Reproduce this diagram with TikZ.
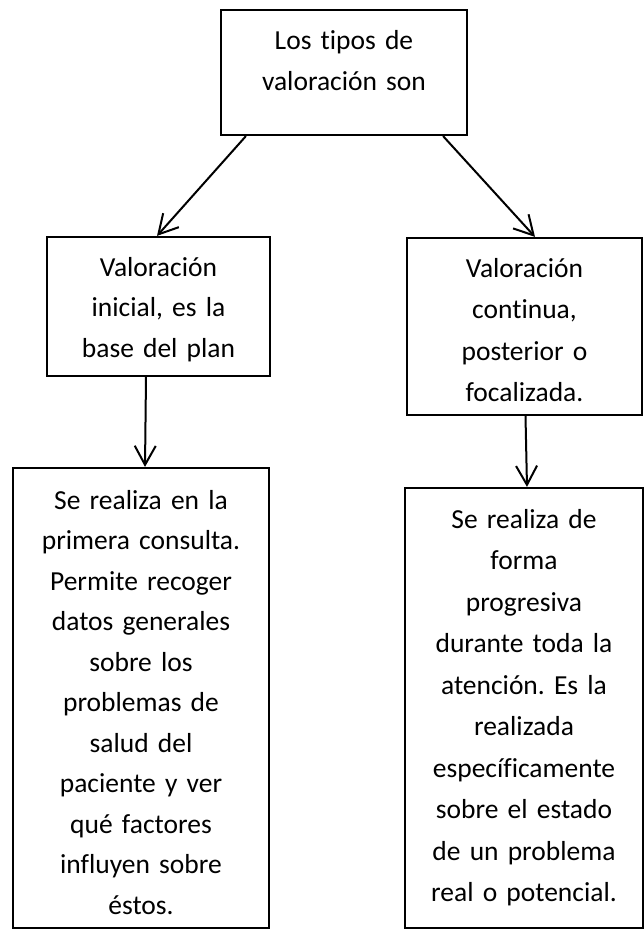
\documentclass[tikz,border=0pt]{standalone}
\usepackage{fontspec}
\setmainfont{Carlito}[RawFeature={-liga;-clig;-dlig}]
\usepackage{tikz}
\usetikzlibrary{arrows.meta}
\usetikzlibrary{positioning}
\frenchspacing
\tikzstyle{box}=[rectangle,draw=black,line width=2.2pt,inner sep=0mm,align=center,anchor=base,font=\fontsize{27.5}{40.5}\selectfont]
\tikzstyle{wide}=[font=\fontsize{27.5}{41.5}\selectfont]
\tikzstyle{arrow}=[-{Straight Barb[length=19pt,width=21pt]},line width=2pt]

\begin{document}
\begin{tikzpicture}[x=1pt,y=-1pt]
        \useasboundingbox (0,0) rectangle (644,930);
        \node[box,wide,text width=246pt,text height=39pt,text depth=86pt] at (344,49) (tipos) {Los tipos de\\valoración son};
        \node[box,text width=223pt,text height=39pt,text depth=100pt] at (158.5,276) (ini) {Valoración\\inicial, es la\\base del plan};
        \node[box,wide,text width=235pt,text height=39pt,text depth=138pt] at (524.5,277) (cont) {Valoración\\continua,\\posterior o\\focalizada.};
        \node[box,text width=256pt,text height=41pt,text depth=419pt] at (141,509) (dini) {Se realiza en la\\primera consulta.\\Permite recoger\\datos generales\\sobre los\\problemas de\\salud del\\paciente y ver\\qué factores\\influyen sobre\\éstos.};
        \node[box,wide,text width=238pt,text height=40pt,text depth=400pt] at (524,528) (dcont) {Se realiza de\\forma\\progresiva\\durante toda la\\atención. Es la\\realizada\\específicamente\\sobre el estado\\de un problema\\real o potencial.};
        \draw[arrow] ([xshift=26pt]tipos.south west) to ([xshift=-1.5pt]ini.north);
        \draw[arrow] ([xshift=-25pt]tipos.south east) to ([xshift=10.5pt]cont.north);
        \draw[arrow] ([xshift=-12.5pt]ini.south) to ([xshift=4pt]dini.north);
        \draw[arrow] ([xshift=1pt]cont.south) to ([xshift=3pt]dcont.north);
      \end{tikzpicture}
\end{document}
